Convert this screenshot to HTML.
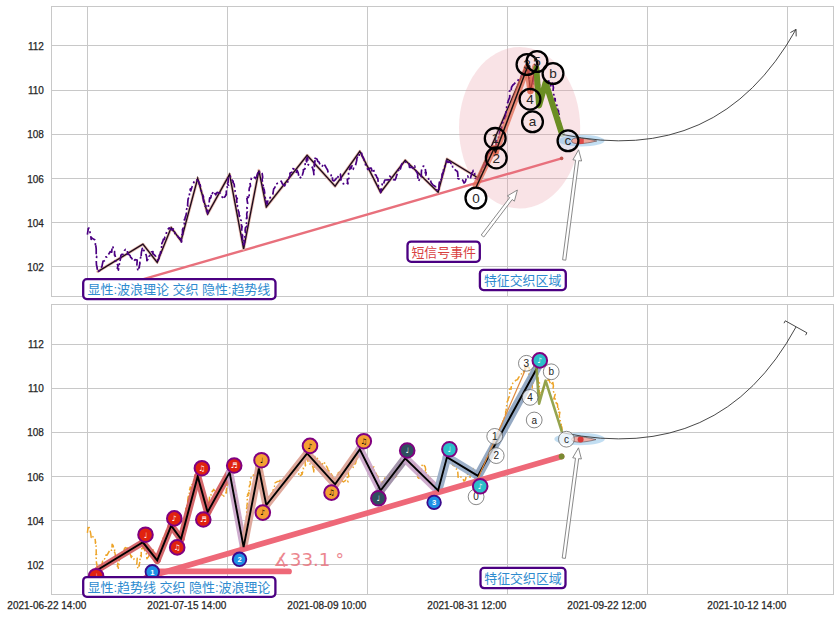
<!DOCTYPE html>
<html><head><meta charset="utf-8"><title>chart</title>
<style>
html,body{margin:0;padding:0;background:#fff;}
body{width:839px;height:617px;overflow:hidden;font-family:"Liberation Sans",sans-serif;}
svg{display:block;font-family:"Liberation Sans",sans-serif;}
</style></head><body>
<svg width="839" height="617" viewBox="0 0 839 617">
<rect width="100%" height="100%" fill="#fff"/>
<g stroke="#c8c8c8" stroke-width="1" shape-rendering="crispEdges"><rect x="51.5" y="6.5" width="782.0" height="290.0" fill="#fff"/><line x1="51.5" x2="833.5" y1="45.5" y2="45.5"/><line x1="51.5" x2="833.5" y1="90.5" y2="90.5"/><line x1="51.5" x2="833.5" y1="134.5" y2="134.5"/><line x1="51.5" x2="833.5" y1="178.5" y2="178.5"/><line x1="51.5" x2="833.5" y1="222.5" y2="222.5"/><line x1="51.5" x2="833.5" y1="266.5" y2="266.5"/><line x1="87.5" x2="87.5" y1="6.5" y2="296.5"/><line x1="227.5" x2="227.5" y1="6.5" y2="296.5"/><line x1="367.5" x2="367.5" y1="6.5" y2="296.5"/><line x1="507.5" x2="507.5" y1="6.5" y2="296.5"/><line x1="647.5" x2="647.5" y1="6.5" y2="296.5"/><line x1="787.5" x2="787.5" y1="6.5" y2="296.5"/><rect x="51.5" y="6.5" width="782.0" height="290.0" fill="none" stroke-width="1"/></g>
<ellipse cx="519.6" cy="127.8" rx="60.6" ry="80.8" fill="#ea9aa6" fill-opacity="0.28"/>
<line x1="140.0" y1="280.2" x2="561.6" y2="158.4" stroke="#e8707c" stroke-width="2.4" stroke-linecap="round"/>
<circle cx="561.6" cy="158.4" r="1.8" fill="#c0564f"/>
<polyline points="97.8,271.6 142.9,244.2 157.2,262.3 171.2,227.6 181.0,241.0 197.7,178.3 207.6,214.0 229.6,174.3 243.6,249.0 258.9,170.3 266.3,207.0 307.1,155.3 335.1,186.2 359.8,151.3 380.6,192.4 405.2,160.3 438.1,192.3 447.0,159.0 477.9,177.8 526.3,65.5" fill="none" stroke="#e6b9ae" stroke-width="2.9" stroke-linejoin="round" stroke-linecap="round"/>
<polyline points="97.8,271.6 142.9,244.2 157.2,262.3 171.2,227.6 181.0,241.0 197.7,178.3 207.6,214.0 229.6,174.3 243.6,249.0 258.9,170.3 266.3,207.0 307.1,155.3 335.1,186.2 359.8,151.3 380.6,192.4 405.2,160.3 438.1,192.3 447.0,159.0 477.9,177.8 526.3,65.5" fill="none" stroke="#1c0a1c" stroke-width="1.35" stroke-linejoin="miter"/>
<polyline points="87.4,234.7 87.8,231.5 87.8,232.0 88.3,228.2 89.0,228.0 88.7,228.0 89.8,231.4 90.5,234.6 90.6,234.7 91.2,239.3 91.5,237.8 93.5,239.1 94.9,239.9 95.3,242.3 95.4,245.2 95.7,243.8 95.6,244.9 95.9,246.4 96.2,248.9 96.2,256.0 95.8,256.5 96.6,256.3 96.6,257.6 96.2,259.4 96.3,261.8 96.5,265.3 96.9,266.1 97.0,267.8 97.4,269.6 97.9,271.6 97.6,272.0 99.1,270.8 99.8,270.5 101.2,268.1 102.1,265.9 102.4,264.1 103.1,261.0 104.3,260.9 104.8,260.4 105.2,259.0 105.9,256.8 106.9,257.2 109.1,253.4 110.1,252.3 110.1,251.5 111.7,252.2 112.0,248.5 112.1,246.1 113.1,247.3 113.7,250.4 114.5,251.4 114.6,251.7 114.5,255.2 114.6,253.8 115.4,257.0 115.4,260.9 116.6,261.5 116.2,262.7 118.1,265.7 117.3,268.2 118.0,268.6 118.4,270.1 119.0,266.5 119.4,264.0 118.9,261.2 119.8,260.9 120.3,259.8 120.9,255.4 121.8,254.4 122.8,254.5 123.7,253.6 124.4,250.7 125.4,249.5 125.9,250.0 127.4,249.9 127.6,254.3 128.4,254.1 130.1,255.6 131.3,259.5 131.5,257.9 133.7,261.3 134.9,259.7 137.2,260.2 136.9,265.0 136.6,266.2 137.4,267.9 137.9,270.5 139.4,267.1 138.9,268.0 140.0,263.1 139.7,263.3 140.2,260.2 140.6,257.4 141.3,258.4 141.3,258.6 141.2,254.8 141.4,252.4 142.3,248.4 142.6,249.9 142.7,249.2 143.2,248.8 143.4,250.2 143.9,250.2 145.1,253.5 146.2,255.1 146.7,257.5 146.9,260.7 148.2,259.0 149.0,257.6 149.5,257.2 149.0,256.4 150.5,255.2 151.5,251.8 153.0,251.6 152.8,254.0 153.3,253.9 155.1,255.6 155.7,256.4 156.7,259.0 156.9,259.5 158.7,260.8 158.4,261.4 158.9,259.5 159.2,257.8 159.2,255.5 160.6,253.3 160.4,253.0 160.8,250.9 160.9,249.9 161.6,248.3 161.6,245.5 161.9,243.2 161.8,243.7 162.8,241.4 163.4,239.2 164.3,239.5 164.9,236.9 166.2,234.9 166.4,232.8 167.2,229.9 169.2,227.9 169.9,228.5 171.0,229.2 172.5,230.4 172.8,228.8 174.7,229.9 175.0,233.9 176.6,236.1 177.8,236.1 178.4,237.3 179.6,238.0 181.7,241.1 181.2,242.8 181.4,236.8 182.6,234.6 181.9,234.6 182.6,234.0 182.5,229.5 183.0,228.6 183.2,227.7 183.4,226.4 184.4,223.5 184.3,223.0 184.4,219.3 184.3,220.0 184.9,219.5 185.2,217.4 186.0,215.4 186.4,212.9 185.8,210.5 186.1,210.5 187.1,208.1 186.4,208.2 188.0,206.3 187.6,205.5 187.8,201.9 188.1,198.9 188.5,198.1 188.7,198.4 189.5,194.2 189.2,192.2 189.8,191.4 190.3,188.9 190.7,190.9 191.8,187.5 192.2,186.2 192.4,185.1 194.3,181.5 196.0,181.0 196.6,179.8 198.4,181.3 199.2,183.0 199.1,183.9 200.2,184.6 200.6,188.6 201.0,190.5 201.4,191.1 201.6,191.1 202.4,192.5 202.5,194.2 203.5,197.1 203.1,197.7 203.5,201.0 204.2,202.8 204.2,203.7 205.1,206.2 206.4,206.1 207.4,209.2 206.5,210.9 207.6,212.2 207.7,213.6 207.5,212.6 207.9,210.6 208.6,207.2 208.6,207.3 208.2,204.4 209.1,204.0 209.4,200.1 209.7,197.9 210.4,198.3 210.9,197.5 211.3,194.6 212.0,193.4 212.8,192.9 212.3,193.5 213.7,191.2 215.7,194.9 217.1,192.3 218.9,193.0 220.2,193.1 221.3,195.4 221.8,196.5 223.8,199.1 223.9,197.5 225.3,196.3 225.9,194.5 226.3,194.9 226.3,191.5 226.9,189.1 227.1,186.8 227.5,188.4 228.6,185.6 227.5,183.6 228.0,182.4 228.1,182.5 228.2,178.7 228.6,177.2 229.1,175.4 230.3,176.1 230.8,179.3 231.2,179.0 233.2,181.4 232.9,182.3 233.6,183.2 234.2,184.3 234.6,188.8 234.3,189.0 235.1,191.0 235.0,190.9 236.0,193.5 236.0,196.2 236.3,197.1 237.3,198.8 236.6,199.1 236.9,203.2 237.3,205.9 237.4,206.3 237.5,205.6 238.3,210.9 238.8,211.8 239.1,213.1 239.0,213.6 239.3,216.3 239.6,215.5 240.2,217.2 240.0,218.7 241.2,220.7 241.0,222.8 241.4,224.7 242.0,227.5 242.1,226.4 241.7,229.1 241.9,234.1 242.5,236.3 242.5,234.4 242.5,237.0 242.6,235.2 242.5,238.2 242.9,242.9 243.1,242.8 243.1,243.3 243.6,245.7 243.7,246.8 244.1,243.9 244.1,242.6 244.1,240.9 244.0,240.7 244.6,242.4 244.5,238.7 245.4,238.5 244.6,235.7 245.5,232.7 245.1,230.6 245.4,227.9 245.6,227.5 247.0,226.2 245.8,227.0 246.3,224.4 246.8,221.8 246.4,219.6 246.6,217.7 247.0,218.1 246.7,213.9 247.2,212.0 247.4,211.6 246.5,210.1 247.3,209.1 246.9,207.8 247.2,205.7 247.7,203.0 247.4,202.3 246.9,198.4 248.4,197.4 247.5,196.7 248.7,194.4 249.2,195.7 249.1,193.4 249.1,189.8 249.3,188.4 249.6,187.3 250.5,186.2 250.4,185.3 250.0,182.7 250.9,180.9 251.4,178.1 252.8,177.5 253.8,176.6 255.5,178.5 256.7,176.3 257.6,173.4 259.1,170.3 259.9,173.7 261.9,173.0 262.1,173.3 262.3,174.3 262.7,177.2 262.1,179.2 262.4,181.3 263.5,183.2 263.0,184.7 263.5,187.0 263.5,185.9 263.8,189.8 264.0,190.7 264.2,189.7 264.7,193.0 264.1,194.6 265.3,197.9 265.7,199.9 265.3,199.8 266.3,201.8 265.9,201.0 266.4,203.0 267.0,204.2 268.0,200.2 268.4,199.0 269.5,198.9 270.1,197.6 270.9,196.6 271.5,195.2 272.9,194.0 273.7,188.9 274.3,188.4 275.5,186.1 275.1,184.7 277.7,183.3 279.3,183.1 281.2,181.1 282.4,183.8 284.6,185.9 285.7,183.8 287.7,183.4 287.7,178.4 288.6,178.6 289.3,177.4 290.1,175.7 289.9,173.2 291.1,172.6 292.1,172.0 292.8,169.3 292.8,168.6 295.6,169.8 296.3,172.4 297.0,170.2 298.1,172.5 299.2,178.0 299.4,178.3 300.4,177.5 302.2,176.0 301.5,174.6 302.4,174.9 303.5,171.0 303.3,169.8 304.8,169.1 305.6,166.9 305.3,166.6 305.0,161.8 306.5,161.5 306.8,161.7 306.5,161.8 306.2,159.8 307.1,157.5 307.2,158.0 307.7,157.9 307.8,162.0 308.0,163.5 308.2,164.8 310.2,166.0 311.7,167.1 312.3,167.1 313.4,171.0 313.6,171.9 313.9,174.7 314.0,170.5 314.5,168.6 314.4,169.1 314.5,164.0 314.0,165.1 314.6,164.7 314.5,162.1 314.7,159.0 315.0,161.9 314.9,158.3 315.7,158.4 317.1,159.3 317.9,161.6 319.0,162.1 320.0,164.5 320.5,166.1 322.3,166.2 323.8,163.5 324.8,165.2 325.8,166.9 326.0,167.4 327.6,170.0 328.0,172.0 329.6,173.5 330.7,174.5 331.2,175.3 331.6,178.1 332.4,177.2 332.5,180.0 334.0,181.0 335.4,179.7 337.3,176.8 337.8,178.3 338.3,174.5 339.5,174.0 340.4,174.1 340.7,177.3 340.9,176.4 341.0,180.2 342.4,183.1 343.5,183.9 346.0,182.1 348.0,183.8 347.7,182.8 347.3,179.3 348.9,178.4 348.1,175.4 348.5,174.5 348.6,170.6 350.1,168.4 350.1,166.9 351.0,168.5 351.4,167.3 351.9,165.8 353.1,166.9 353.2,169.3 354.0,166.6 355.5,165.5 356.4,161.8 356.8,160.1 356.8,158.8 357.7,156.4 358.4,155.8 359.0,156.7 359.4,152.4 360.0,152.6 361.7,153.3 362.1,155.8 363.4,158.0 364.1,160.1 364.2,160.4 364.7,161.3 365.1,162.6 365.6,165.0 366.0,166.7 367.9,169.5 369.9,168.1 371.2,168.1 372.0,170.9 373.8,168.8 374.1,174.4 375.9,175.0 376.0,175.1 376.8,177.3 377.8,178.3 378.2,182.1 377.8,184.2 378.6,186.2 379.2,188.2 379.9,189.5 380.8,192.4 380.8,189.0 381.4,189.8 381.5,186.3 382.2,184.5 382.3,183.3 383.3,184.6 384.8,180.0 388.1,179.8 389.5,179.9 389.7,176.0 391.5,177.9 393.4,179.7 395.1,180.0 396.0,177.9 396.5,175.7 396.6,175.8 397.8,171.9 398.3,170.1 399.3,171.4 400.4,167.7 400.4,169.0 401.6,164.4 404.0,161.8 404.8,161.2 406.6,162.8 408.9,162.7 409.5,167.4 412.1,167.4 413.7,168.8 414.7,166.0 414.9,166.9 415.4,170.7 416.2,171.0 416.2,171.4 417.3,173.1 417.8,175.4 417.6,176.8 418.3,179.0 417.8,179.3 419.0,180.3 418.7,180.9 419.7,179.0 419.6,178.8 420.8,175.7 421.3,176.7 421.4,171.5 421.7,169.6 422.1,167.3 423.3,166.1 424.4,166.4 424.3,167.6 425.2,168.7 425.7,171.5 425.2,172.8 425.6,172.0 426.2,172.6 425.9,175.2 426.8,176.1 428.5,177.8 428.8,180.7 430.4,180.2 431.2,182.8 433.2,185.3 434.7,186.1 435.5,186.7 436.7,186.5 436.7,189.9 438.5,191.6 439.0,190.3 438.9,188.1 439.0,185.0 439.4,182.2 440.3,182.8 440.6,183.1 441.1,179.4 442.0,178.1 442.1,179.2 442.0,174.6 442.4,173.5 443.2,172.4 443.5,171.3 443.5,167.7 444.7,166.2 444.9,166.7 445.6,164.1 446.7,162.5 446.5,160.8 448.5,162.3 449.9,161.9 451.1,163.6 451.9,163.1 452.7,167.0 453.7,166.9 455.2,169.9 456.7,171.1 457.4,171.5 457.7,173.1 458.2,179.2 457.8,178.5 459.5,179.3 459.9,179.6 461.0,178.9 462.7,180.1 464.0,183.0 465.3,181.9 466.1,178.9 467.7,176.0 468.5,178.2 470.2,179.1 471.4,174.8 471.9,172.5 472.3,172.5 472.9,171.8 473.2,170.3 474.0,172.0 474.6,173.0 474.8,177.0 475.2,178.2 476.8,178.5 477.7,179.6 478.7,178.2 479.4,177.1 480.3,173.1 480.1,172.7 481.2,171.2 481.6,171.1 481.9,169.0 483.2,167.1 484.3,164.6 485.1,165.3 486.0,161.3 486.2,159.2 487.2,157.1 487.8,156.9 488.4,154.9 489.6,153.0 489.9,151.2 490.4,149.9 490.7,148.5 492.1,147.8 493.0,145.7 493.7,146.9 494.3,150.2 495.3,148.0 495.6,146.4 496.1,146.3 496.2,141.3 497.0,141.5 496.9,138.0 498.7,137.4 498.0,134.0 499.2,133.9 499.9,131.7 500.8,129.0 501.3,129.1 502.2,126.2 502.6,124.5 503.2,121.7 504.0,121.7 504.4,119.6 505.1,117.0 505.8,116.5 505.6,113.8 506.1,112.1 506.5,109.5 506.5,109.6 506.6,108.7 506.8,104.5 507.7,102.6 508.0,102.3 508.1,101.1 509.5,97.9 509.8,96.2 509.4,91.4 510.9,89.9 511.0,91.2 511.5,87.3 512.9,85.0 514.3,83.8 514.4,83.6 515.8,82.2 517.5,81.5 518.8,79.0 519.6,78.4 521.1,76.9 521.8,74.8 523.0,75.2 524.2,72.1 525.0,69.1 526.4,66.9 527.8,64.5 528.2,69.3 529.2,69.6 529.4,71.6 528.6,73.6 529.3,78.3 530.1,79.8 530.0,79.0 530.5,80.6 530.1,83.0 531.0,84.9 531.2,86.3 531.2,87.6 531.6,90.2 532.1,89.9 532.3,88.2 532.0,85.6 533.2,84.7 532.8,82.3 533.6,80.0 533.2,78.4 533.7,76.3 534.1,74.5 535.3,71.9 534.7,72.3 535.5,68.9 535.6,67.4 536.0,67.3 537.0,69.3 536.8,69.8 537.3,71.6 537.1,70.7 537.7,74.7 537.7,76.0 538.0,77.3 538.1,83.1 538.8,84.6 538.8,84.6 539.5,84.9 539.0,87.2 539.3,88.3 539.2,88.5 539.7,90.2 539.0,93.4 540.1,94.6 539.5,94.7 540.0,98.7 540.2,96.2 541.1,95.1 542.0,93.8 542.4,93.0 543.3,90.0 544.1,88.3 544.7,86.0 545.3,84.0 547.4,83.1 548.7,80.8 549.5,83.1 550.3,85.2 551.6,86.6 552.6,83.1 553.5,88.0 553.2,88.7 553.1,91.8 553.9,94.9 553.7,94.7 555.2,96.1 553.8,100.8 555.2,98.6 555.2,101.0 555.9,103.7 556.4,105.4 557.3,105.3 557.6,107.1 557.7,110.1 558.1,111.6 558.5,110.7 558.5,114.2 559.9,114.1 559.2,118.0 559.9,120.0 560.1,122.4 560.2,122.8 560.6,124.5 560.7,125.1 561.3,126.3 560.8,127.4 561.9,129.0 562.0,131.1 561.8,134.5" fill="none" stroke="#4b0082" stroke-width="1.7" stroke-dasharray="9 3 2 3" stroke-linejoin="round"/>
<line x1="475.8" y1="185.5" x2="494.0" y2="148.5" stroke="#e0684e" stroke-opacity="0.72" stroke-width="6.4" stroke-linecap="round"/>
<line x1="494.0" y1="148.5" x2="495.5" y2="152.5" stroke="#e0684e" stroke-opacity="0.72" stroke-width="6.4" stroke-linecap="round"/>
<line x1="495.5" y1="152.5" x2="527.3" y2="67.2" stroke="#e0684e" stroke-opacity="0.72" stroke-width="6.4" stroke-linecap="round"/>
<line x1="527.3" y1="67.2" x2="530.5" y2="91.0" stroke="#e0684e" stroke-opacity="0.72" stroke-width="6.4" stroke-linecap="round"/>
<line x1="530.5" y1="91.0" x2="535.2" y2="66.8" stroke="#e0684e" stroke-opacity="0.72" stroke-width="6.4" stroke-linecap="round"/>
<polyline points="476.2,187.0 494.0,148.5 495.5,152.5 527.3,67.2" fill="none" stroke="#1a0f0f" stroke-width="1.5" stroke-linejoin="round"/>
<polyline points="527.3,67.2 530.5,91.0 535.2,66.8" fill="none" stroke="#a33a32" stroke-width="1.1" stroke-linejoin="round"/>
<polyline points="536.3,68.0 539.1,105.5 545.6,82.6 562.0,134.0" fill="none" stroke="#6b8e23" stroke-width="6" stroke-linejoin="round" stroke-linecap="round"/>
<circle cx="568" cy="140.8" r="10.4" fill="#dde3f2" fill-opacity="0.75"/>
<ellipse cx="581.5" cy="140.7" rx="23" ry="5.8" fill="#86bde6" fill-opacity="0.5"/>
<path d="M571.5,140.9 C572,136.6 581,137.4 596.8,141 C584,144.2 572,145 571.5,140.9Z" fill="#f2a294" fill-opacity="0.9" stroke="#4a3030" stroke-width="0.5"/>
<path d="M579.2,138.2 L583.8,138.7 L583.8,143.6 L579.2,144.2Z" fill="#dc3a3a" fill-opacity="0.85"/>
<path d="M562.5,134.5 Q718.6,167.4 796,29.4" fill="none" stroke="#333" stroke-width="0.9"/>
<path d="M790.4,32.6 L796,29.4 L796.2,36.4" fill="none" stroke="#333" stroke-width="0.9"/>
<circle cx="475.9" cy="198.0" r="10.4" fill="none"  stroke="#000" stroke-width="2.3"/>
<text x="472.15" y="202.60" font-size="13.5" fill="#262626" font-family="'Liberation Sans',sans-serif">0</text>
<circle cx="495.2" cy="138.4" r="10.4" fill="none"  stroke="#000" stroke-width="2.3"/>
<text x="491.45" y="143.00" font-size="13.5" fill="#262626" font-family="'Liberation Sans',sans-serif">1</text>
<circle cx="496.3" cy="157.9" r="10.4" fill="none"  stroke="#000" stroke-width="2.3"/>
<text x="492.55" y="162.50" font-size="13.5" fill="#262626" font-family="'Liberation Sans',sans-serif">2</text>
<circle cx="527.0" cy="64.5" r="10.4" fill="none"  stroke="#000" stroke-width="2.3"/>
<text x="523.25" y="69.10" font-size="13.5" fill="#262626" font-family="'Liberation Sans',sans-serif">3</text>
<circle cx="530.0" cy="99.2" r="10.4" fill="none"  stroke="#000" stroke-width="2.3"/>
<text x="526.25" y="103.80" font-size="13.5" fill="#262626" font-family="'Liberation Sans',sans-serif">4</text>
<circle cx="537.0" cy="61.5" r="10.4" fill="none"  stroke="#000" stroke-width="2.3"/>
<text x="533.25" y="66.10" font-size="13.5" fill="#262626" font-family="'Liberation Sans',sans-serif">5</text>
<circle cx="532.5" cy="121.8" r="10.4" fill="none"  stroke="#000" stroke-width="2.3"/>
<text x="528.75" y="126.40" font-size="13.5" fill="#262626" font-family="'Liberation Sans',sans-serif">a</text>
<circle cx="553.0" cy="73.5" r="10.4" fill="none"  stroke="#000" stroke-width="2.3"/>
<text x="549.25" y="78.10" font-size="13.5" fill="#262626" font-family="'Liberation Sans',sans-serif">b</text>
<circle cx="568.0" cy="140.8" r="10.4" fill="none"  stroke="#000" stroke-width="2.3"/>
<text x="564.62" y="145.40" font-size="13.5" fill="#262626" font-family="'Liberation Sans',sans-serif">c</text>
<polygon points="483.8,237.0 512.2,199.5 514.4,201.2 517.4,190.0 507.4,195.9 509.7,197.6 481.2,235.0" fill="#fff" stroke="#7d7d7d" stroke-width="0.9" stroke-linejoin="miter"/>
<polygon points="565.8,260.2 578.8,160.6 581.6,161.0 578.6,149.8 572.9,159.8 575.6,160.2 562.6,259.8" fill="#fff" stroke="#7d7d7d" stroke-width="0.9" stroke-linejoin="miter"/>
<rect x="83.2" y="279.2" width="192.3" height="19.9" rx="3.6" ry="3.6" fill="#fff" stroke="#4b0082" stroke-width="2.3"/>
<text x="87.6" y="294.3" font-size="13.05" fill="#2e8bcf" textLength="182.8" lengthAdjust="spacing" font-family="'Liberation Sans','Noto Sans CJK SC',sans-serif">显性:波浪理论 交织 隐性:趋势线</text>
<rect x="407.5" y="241.6" width="72.3" height="20.2" rx="3.6" ry="3.6" fill="#fff" stroke="#4b0082" stroke-width="2.3"/>
<text x="411.4" y="256.8" font-size="12.92" fill="#d8413f" textLength="64.6" lengthAdjust="spacing" font-family="'Liberation Sans','Noto Sans CJK SC',sans-serif">短信号事件</text>
<rect x="479.9" y="269.8" width="85.9" height="20.3" rx="3.6" ry="3.6" fill="#fff" stroke="#4b0082" stroke-width="2.3"/>
<text x="483.9" y="285.0" font-size="12.9" fill="#2e8bcf" textLength="77.4" lengthAdjust="spacing" font-family="'Liberation Sans','Noto Sans CJK SC',sans-serif">特征交织区域</text>
<g stroke="#c8c8c8" stroke-width="1" shape-rendering="crispEdges"><rect x="51.5" y="304.5" width="782.0" height="290.0" fill="#fff"/><line x1="51.5" x2="833.5" y1="344.5" y2="344.5"/><line x1="51.5" x2="833.5" y1="388.5" y2="388.5"/><line x1="51.5" x2="833.5" y1="432.5" y2="432.5"/><line x1="51.5" x2="833.5" y1="476.5" y2="476.5"/><line x1="51.5" x2="833.5" y1="520.5" y2="520.5"/><line x1="51.5" x2="833.5" y1="564.5" y2="564.5"/><line x1="87.5" x2="87.5" y1="304.5" y2="594.5"/><line x1="227.5" x2="227.5" y1="304.5" y2="594.5"/><line x1="367.5" x2="367.5" y1="304.5" y2="594.5"/><line x1="507.5" x2="507.5" y1="304.5" y2="594.5"/><line x1="647.5" x2="647.5" y1="304.5" y2="594.5"/><line x1="787.5" x2="787.5" y1="304.5" y2="594.5"/><rect x="51.5" y="304.5" width="782.0" height="290.0" fill="none" stroke-width="1"/></g>
<polyline points="87.4,532.8 87.8,529.6 87.8,530.1 88.3,526.3 89.0,526.1 88.7,526.1 89.8,529.5 90.5,532.7 90.6,532.8 91.2,537.4 91.5,535.9 93.5,537.2 94.9,538.0 95.3,540.4 95.4,543.3 95.7,541.9 95.6,543.0 95.9,544.5 96.2,547.0 96.2,554.1 95.8,554.6 96.6,554.4 96.6,555.7 96.2,557.5 96.3,559.9 96.5,563.4 96.9,564.2 97.0,565.9 97.4,567.7 97.9,569.7 97.6,570.1 99.1,568.9 99.8,568.6 101.2,566.2 102.1,564.0 102.4,562.2 103.1,559.1 104.3,559.0 104.8,558.5 105.2,557.1 105.9,554.9 106.9,555.3 109.1,551.5 110.1,550.4 110.1,549.6 111.7,550.3 112.0,546.6 112.1,544.2 113.1,545.4 113.7,548.5 114.5,549.5 114.6,549.8 114.5,553.3 114.6,551.9 115.4,555.1 115.4,559.0 116.6,559.6 116.2,560.8 118.1,563.8 117.3,566.3 118.0,566.7 118.4,568.2 119.0,564.6 119.4,562.1 118.9,559.3 119.8,559.0 120.3,557.9 120.9,553.5 121.8,552.5 122.8,552.6 123.7,551.7 124.4,548.8 125.4,547.6 125.9,548.1 127.4,548.0 127.6,552.4 128.4,552.2 130.1,553.7 131.3,557.6 131.5,556.0 133.7,559.4 134.9,557.8 137.2,558.3 136.9,563.1 136.6,564.3 137.4,566.0 137.9,568.6 139.4,565.2 138.9,566.1 140.0,561.2 139.7,561.4 140.2,558.3 140.6,555.5 141.3,556.5 141.3,556.7 141.2,552.9 141.4,550.5 142.3,546.5 142.6,548.0 142.7,547.3 143.2,546.9 143.4,548.3 143.9,548.3 145.1,551.6 146.2,553.2 146.7,555.6 146.9,558.8 148.2,557.1 149.0,555.7 149.5,555.3 149.0,554.5 150.5,553.3 151.5,549.9 153.0,549.7 152.8,552.1 153.3,552.0 155.1,553.7 155.7,554.5 156.7,557.1 156.9,557.6 158.7,558.9 158.4,559.5 158.9,557.6 159.2,555.9 159.2,553.6 160.6,551.4 160.4,551.1 160.8,549.0 160.9,548.0 161.6,546.4 161.6,543.6 161.9,541.3 161.8,541.8 162.8,539.5 163.4,537.3 164.3,537.6 164.9,535.0 166.2,533.0 166.4,530.9 167.2,528.0 169.2,526.0 169.9,526.6 171.0,527.3 172.5,528.5 172.8,526.9 174.7,528.0 175.0,532.0 176.6,534.2 177.8,534.2 178.4,535.4 179.6,536.1 181.7,539.2 181.2,540.9 181.4,534.9 182.6,532.7 181.9,532.7 182.6,532.1 182.5,527.6 183.0,526.7 183.2,525.8 183.4,524.5 184.4,521.6 184.3,521.1 184.4,517.4 184.3,518.1 184.9,517.6 185.2,515.5 186.0,513.5 186.4,511.0 185.8,508.6 186.1,508.6 187.1,506.2 186.4,506.3 188.0,504.4 187.6,503.6 187.8,500.0 188.1,497.0 188.5,496.2 188.7,496.5 189.5,492.3 189.2,490.3 189.8,489.5 190.3,487.0 190.7,489.0 191.8,485.6 192.2,484.3 192.4,483.2 194.3,479.6 196.0,479.1 196.6,477.9 198.4,479.4 199.2,481.1 199.1,482.0 200.2,482.7 200.6,486.7 201.0,488.6 201.4,489.2 201.6,489.2 202.4,490.6 202.5,492.3 203.5,495.2 203.1,495.8 203.5,499.1 204.2,500.9 204.2,501.8 205.1,504.3 206.4,504.2 207.4,507.3 206.5,509.0 207.6,510.3 207.7,511.7 207.5,510.7 207.9,508.7 208.6,505.3 208.6,505.4 208.2,502.5 209.1,502.1 209.4,498.2 209.7,496.0 210.4,496.4 210.9,495.6 211.3,492.7 212.0,491.5 212.8,491.0 212.3,491.6 213.7,489.3 215.7,493.0 217.1,490.4 218.9,491.1 220.2,491.2 221.3,493.5 221.8,494.6 223.8,497.2 223.9,495.6 225.3,494.4 225.9,492.6 226.3,493.0 226.3,489.6 226.9,487.2 227.1,484.9 227.5,486.5 228.6,483.7 227.5,481.7 228.0,480.5 228.1,480.6 228.2,476.8 228.6,475.3 229.1,473.5 230.3,474.2 230.8,477.4 231.2,477.1 233.2,479.5 232.9,480.4 233.6,481.3 234.2,482.4 234.6,486.9 234.3,487.1 235.1,489.1 235.0,489.0 236.0,491.6 236.0,494.3 236.3,495.2 237.3,496.9 236.6,497.2 236.9,501.3 237.3,504.0 237.4,504.4 237.5,503.7 238.3,509.0 238.8,509.9 239.1,511.2 239.0,511.7 239.3,514.4 239.6,513.6 240.2,515.3 240.0,516.8 241.2,518.8 241.0,520.9 241.4,522.8 242.0,525.6 242.1,524.5 241.7,527.2 241.9,532.2 242.5,534.4 242.5,532.5 242.5,535.1 242.6,533.3 242.5,536.3 242.9,541.0 243.1,540.9 243.1,541.4 243.6,543.8 243.7,544.9 244.1,542.0 244.1,540.7 244.1,539.0 244.0,538.8 244.6,540.5 244.5,536.8 245.4,536.6 244.6,533.8 245.5,530.8 245.1,528.7 245.4,526.0 245.6,525.6 247.0,524.3 245.8,525.1 246.3,522.5 246.8,519.9 246.4,517.7 246.6,515.8 247.0,516.2 246.7,512.0 247.2,510.1 247.4,509.7 246.5,508.2 247.3,507.2 246.9,505.9 247.2,503.8 247.7,501.1 247.4,500.4 246.9,496.5 248.4,495.5 247.5,494.8 248.7,492.5 249.2,493.8 249.1,491.5 249.1,487.9 249.3,486.5 249.6,485.4 250.5,484.3 250.4,483.4 250.0,480.8 250.9,479.0 251.4,476.2 252.8,475.6 253.8,474.7 255.5,476.6 256.7,474.4 257.6,471.5 259.1,468.4 259.9,471.8 261.9,471.1 262.1,471.4 262.3,472.4 262.7,475.3 262.1,477.3 262.4,479.4 263.5,481.3 263.0,482.8 263.5,485.1 263.5,484.0 263.8,487.9 264.0,488.8 264.2,487.8 264.7,491.1 264.1,492.7 265.3,496.0 265.7,498.0 265.3,497.9 266.3,499.9 265.9,499.1 266.4,501.1 267.0,502.3 268.0,498.3 268.4,497.1 269.5,497.0 270.1,495.7 270.9,494.7 271.5,493.3 272.9,492.1 273.7,487.0 274.3,486.5 275.5,484.2 275.1,482.8 277.7,481.4 279.3,481.2 281.2,479.2 282.4,481.9 284.6,484.0 285.7,481.9 287.7,481.5 287.7,476.5 288.6,476.7 289.3,475.5 290.1,473.8 289.9,471.3 291.1,470.7 292.1,470.1 292.8,467.4 292.8,466.7 295.6,467.9 296.3,470.5 297.0,468.3 298.1,470.6 299.2,476.1 299.4,476.4 300.4,475.6 302.2,474.1 301.5,472.7 302.4,473.0 303.5,469.1 303.3,467.9 304.8,467.2 305.6,465.0 305.3,464.7 305.0,459.9 306.5,459.6 306.8,459.8 306.5,459.9 306.2,457.9 307.1,455.6 307.2,456.1 307.7,456.0 307.8,460.1 308.0,461.6 308.2,462.9 310.2,464.1 311.7,465.2 312.3,465.2 313.4,469.1 313.6,470.0 313.9,472.8 314.0,468.6 314.5,466.7 314.4,467.2 314.5,462.1 314.0,463.2 314.6,462.8 314.5,460.2 314.7,457.1 315.0,460.0 314.9,456.4 315.7,456.5 317.1,457.4 317.9,459.7 319.0,460.2 320.0,462.6 320.5,464.2 322.3,464.3 323.8,461.6 324.8,463.3 325.8,465.0 326.0,465.5 327.6,468.1 328.0,470.1 329.6,471.6 330.7,472.6 331.2,473.4 331.6,476.2 332.4,475.3 332.5,478.1 334.0,479.1 335.4,477.8 337.3,474.9 337.8,476.4 338.3,472.6 339.5,472.1 340.4,472.2 340.7,475.4 340.9,474.5 341.0,478.3 342.4,481.2 343.5,482.0 346.0,480.2 348.0,481.9 347.7,480.9 347.3,477.4 348.9,476.5 348.1,473.5 348.5,472.6 348.6,468.7 350.1,466.5 350.1,465.0 351.0,466.6 351.4,465.4 351.9,463.9 353.1,465.0 353.2,467.4 354.0,464.7 355.5,463.6 356.4,459.9 356.8,458.2 356.8,456.9 357.7,454.5 358.4,453.9 359.0,454.8 359.4,450.5 360.0,450.7 361.7,451.4 362.1,453.9 363.4,456.1 364.1,458.2 364.2,458.5 364.7,459.4 365.1,460.7 365.6,463.1 366.0,464.8 367.9,467.6 369.9,466.2 371.2,466.2 372.0,469.0 373.8,466.9 374.1,472.5 375.9,473.1 376.0,473.2 376.8,475.4 377.8,476.4 378.2,480.2 377.8,482.3 378.6,484.3 379.2,486.3 379.9,487.6 380.8,490.5 380.8,487.1 381.4,487.9 381.5,484.4 382.2,482.6 382.3,481.4 383.3,482.7 384.8,478.1 388.1,477.9 389.5,478.0 389.7,474.1 391.5,476.0 393.4,477.8 395.1,478.1 396.0,476.0 396.5,473.8 396.6,473.9 397.8,470.0 398.3,468.2 399.3,469.5 400.4,465.8 400.4,467.1 401.6,462.5 404.0,459.9 404.8,459.3 406.6,460.9 408.9,460.8 409.5,465.5 412.1,465.5 413.7,466.9 414.7,464.1 414.9,465.0 415.4,468.8 416.2,469.1 416.2,469.5 417.3,471.2 417.8,473.5 417.6,474.9 418.3,477.1 417.8,477.4 419.0,478.4 418.7,479.0 419.7,477.1 419.6,476.9 420.8,473.8 421.3,474.8 421.4,469.6 421.7,467.7 422.1,465.4 423.3,464.2 424.4,464.5 424.3,465.7 425.2,466.8 425.7,469.6 425.2,470.9 425.6,470.1 426.2,470.7 425.9,473.3 426.8,474.2 428.5,475.9 428.8,478.8 430.4,478.3 431.2,480.9 433.2,483.4 434.7,484.2 435.5,484.8 436.7,484.6 436.7,488.0 438.5,489.7 439.0,488.4 438.9,486.2 439.0,483.1 439.4,480.3 440.3,480.9 440.6,481.2 441.1,477.5 442.0,476.2 442.1,477.3 442.0,472.7 442.4,471.6 443.2,470.5 443.5,469.4 443.5,465.8 444.7,464.3 444.9,464.8 445.6,462.2 446.7,460.6 446.5,458.9 448.5,460.4 449.9,460.0 451.1,461.7 451.9,461.2 452.7,465.1 453.7,465.0 455.2,468.0 456.7,469.2 457.4,469.6 457.7,471.2 458.2,477.3 457.8,476.6 459.5,477.4 459.9,477.7 461.0,477.0 462.7,478.2 464.0,481.1 465.3,480.0 466.1,477.0 467.7,474.1 468.5,476.3 470.2,477.2 471.4,472.9 471.9,470.6 472.3,470.6 472.9,469.9 473.2,468.4 474.0,470.1 474.6,471.1 474.8,475.1 475.2,476.3 476.8,476.6 477.7,477.7 478.7,476.3 479.4,475.2 480.3,471.2 480.1,470.8 481.2,469.3 481.6,469.2 481.9,467.1 483.2,465.2 484.3,462.7 485.1,463.4 486.0,459.4 486.2,457.3 487.2,455.2 487.8,455.0 488.4,453.0 489.6,451.1 489.9,449.3 490.4,448.0 490.7,446.6 492.1,445.9 493.0,443.8 493.7,445.0 494.3,448.3 495.3,446.1 495.6,444.5 496.1,444.4 496.2,439.4 497.0,439.6 496.9,436.1 498.7,435.5 498.0,432.1 499.2,432.0 499.9,429.8 500.8,427.1 501.3,427.2 502.2,424.3 502.6,422.6 503.2,419.8 504.0,419.8 504.4,417.7 505.1,415.1 505.8,414.6 505.6,411.9 506.1,410.2 506.5,407.6 506.5,407.7 506.6,406.8 506.8,402.6 507.7,400.7 508.0,400.4 508.1,399.2 509.5,396.0 509.8,394.3 509.4,389.5 510.9,388.0 511.0,389.3 511.5,385.4 512.9,383.1 514.3,381.9 514.4,381.7 515.8,380.3 517.5,379.6 518.8,377.1 519.6,376.5 521.1,375.0 521.8,372.9 523.0,373.3 524.2,370.2 525.0,367.2 526.4,365.0 527.8,362.6 528.2,367.4 529.2,367.7 529.4,369.7 528.6,371.7 529.3,376.4 530.1,377.9 530.0,377.1 530.5,378.7 530.1,381.1 531.0,383.0 531.2,384.4 531.2,385.7 531.6,388.3 532.1,388.0 532.3,386.3 532.0,383.7 533.2,382.8 532.8,380.4 533.6,378.1 533.2,376.5 533.7,374.4 534.1,372.6 535.3,370.0 534.7,370.4 535.5,367.0 535.6,365.5 536.0,365.4 537.0,367.4 536.8,367.9 537.3,369.7 537.1,368.8 537.7,372.8 537.7,374.1 538.0,375.4 538.1,381.2 538.8,382.7 538.8,382.7 539.5,383.0 539.0,385.3 539.3,386.4 539.2,386.6 539.7,388.3 539.0,391.5 540.1,392.7 539.5,392.8 540.0,396.8 540.2,394.3 541.1,393.2 542.0,391.9 542.4,391.1 543.3,388.1 544.1,386.4 544.7,384.1 545.3,382.1 547.4,381.2 548.7,378.9 549.5,381.2 550.3,383.3 551.6,384.7 552.6,381.2 553.5,386.1 553.2,386.8 553.1,389.9 553.9,393.0 553.7,392.8 555.2,394.2 553.8,398.9 555.2,396.7 555.2,399.1 555.9,401.8 556.4,403.5 557.3,403.4 557.6,405.2 557.7,408.2 558.1,409.7 558.5,408.8 558.5,412.3 559.9,412.2 559.2,416.1 559.9,418.1 560.1,420.5 560.2,420.9 560.6,422.6 560.7,423.2 561.3,424.4 560.8,425.5 561.9,427.1 562.0,429.2 561.8,432.6" fill="none" stroke="#eda428" stroke-width="1.5" stroke-dasharray="7 2.4 1.5 2.4" stroke-linejoin="round"/>
<line x1="97.8" y1="569.7" x2="142.9" y2="542.3" stroke="#d0585c" stroke-opacity="0.9" stroke-width="6.8" stroke-linecap="round"/>
<line x1="142.9" y1="542.3" x2="157.2" y2="560.4" stroke="#d0585c" stroke-opacity="0.9" stroke-width="6.9" stroke-linecap="round"/>
<line x1="157.2" y1="560.4" x2="171.2" y2="525.7" stroke="#d0585c" stroke-opacity="0.9" stroke-width="7.0" stroke-linecap="round"/>
<line x1="171.2" y1="525.7" x2="181.0" y2="539.1" stroke="#d0585c" stroke-opacity="0.9" stroke-width="7.1" stroke-linecap="round"/>
<line x1="181.0" y1="539.1" x2="197.7" y2="476.4" stroke="#d0585c" stroke-opacity="0.9" stroke-width="7.2" stroke-linecap="round"/>
<line x1="197.7" y1="476.4" x2="207.6" y2="512.1" stroke="#d0585c" stroke-opacity="0.9" stroke-width="7.4" stroke-linecap="round"/>
<line x1="207.6" y1="512.1" x2="229.6" y2="472.4" stroke="#d0585c" stroke-opacity="0.9" stroke-width="7.5" stroke-linecap="round"/>
<line x1="229.6" y1="472.4" x2="243.6" y2="547.1" stroke="#c9a3c9" stroke-opacity="0.9" stroke-width="7.6" stroke-linecap="round"/>
<line x1="243.6" y1="547.1" x2="258.9" y2="468.4" stroke="#dca092" stroke-opacity="0.9" stroke-width="7.7" stroke-linecap="round"/>
<line x1="258.9" y1="468.4" x2="266.3" y2="505.1" stroke="#dca092" stroke-opacity="0.9" stroke-width="7.8" stroke-linecap="round"/>
<line x1="266.3" y1="505.1" x2="307.1" y2="453.4" stroke="#dca092" stroke-opacity="0.9" stroke-width="7.9" stroke-linecap="round"/>
<line x1="307.1" y1="453.4" x2="335.1" y2="484.3" stroke="#dca092" stroke-opacity="0.9" stroke-width="8.0" stroke-linecap="round"/>
<line x1="335.1" y1="484.3" x2="359.8" y2="449.4" stroke="#dca092" stroke-opacity="0.9" stroke-width="8.1" stroke-linecap="round"/>
<line x1="359.8" y1="449.4" x2="380.6" y2="490.5" stroke="#c9a3c9" stroke-opacity="0.9" stroke-width="8.2" stroke-linecap="round"/>
<line x1="380.6" y1="490.5" x2="405.2" y2="458.4" stroke="#9a8aa3" stroke-opacity="0.9" stroke-width="8.4" stroke-linecap="round"/>
<line x1="405.2" y1="458.4" x2="438.1" y2="490.4" stroke="#c9a3c9" stroke-opacity="0.9" stroke-width="8.5" stroke-linecap="round"/>
<line x1="438.1" y1="490.4" x2="447.0" y2="457.1" stroke="#94a9c4" stroke-opacity="0.9" stroke-width="8.6" stroke-linecap="round"/>
<line x1="447.0" y1="457.1" x2="477.9" y2="475.9" stroke="#94a9c4" stroke-opacity="0.9" stroke-width="8.7" stroke-linecap="round"/>
<line x1="477.9" y1="475.9" x2="537.9" y2="366.5" stroke="#8aa0bc" stroke-opacity="0.9" stroke-width="8.8" stroke-linecap="round"/>
<line x1="152.3" y1="571.4" x2="289" y2="571.4" stroke="#ee6878" stroke-width="5.7" stroke-linecap="round"/>
<line x1="146.0" y1="577.5" x2="561.6" y2="456.5" stroke="#ee6878" stroke-width="5.7" stroke-linecap="round"/>
<circle cx="561.6" cy="456.5" r="2.9" fill="#7a8a32"/>
<text x="273.4" y="565.6" font-size="18.3" fill="#e9727c" opacity="0.85" font-family="'DejaVu Sans',sans-serif">∡33.1</text>
<text x="335.6" y="565.6" font-size="17" fill="#e9727c" opacity="0.85" font-family="'DejaVu Sans',sans-serif">°</text>
<polyline points="97.8,569.7 142.9,542.3 157.2,560.4 171.2,525.7 181.0,539.1 197.7,476.4 207.6,512.1 229.6,472.4 243.6,547.1 258.9,468.4 266.3,505.1 307.1,453.4 335.1,484.3 359.8,449.4 380.6,490.5 405.2,458.4 438.1,490.4 447.0,457.1 477.9,475.9 537.9,366.5" fill="none" stroke="#000" stroke-width="1.9" stroke-linejoin="miter"/>
<polyline points="475.8,483.6 527.3,365.3" fill="none" stroke="#e08a3c" stroke-width="1.2"/>
<polyline points="536.3,366.1 539.1,403.6 545.6,380.7 562.0,432.1" fill="none" stroke="#8a9a3c" stroke-opacity="0.9" stroke-width="2.6" stroke-linejoin="round"/>
<ellipse cx="579.6" cy="439" rx="25.3" ry="6.3" fill="#86bde6" fill-opacity="0.5"/>
<path d="M571.6,439.4 C572,435.2 580,435.8 596,439.6 C586,442.4 572,443.6 571.6,439.4Z" fill="#f2aaa0" fill-opacity="0.9" stroke="#4a3030" stroke-width="0.5"/>
<circle cx="580.6" cy="439.6" r="3" fill="#d83a3a"/>
<path d="M562,432.7 Q720.6,465.2 796,327.0" fill="none" stroke="#333" stroke-width="0.9"/>
<path d="M784.0,323.2 L785.3,320.8 L806.9,332.8 L805.6,335.2" fill="none" stroke="#333" stroke-width="0.9"/>
<circle cx="476.1" cy="496.8" r="7.9" fill="#fff" fill-opacity="0.68" stroke="#555" stroke-width="0.7"/>
<text x="473.32" y="500.30" font-size="10" fill="#262626" font-family="'Liberation Sans',sans-serif">0</text>
<circle cx="494.7" cy="436.4" r="7.9" fill="#fff" fill-opacity="0.68" stroke="#555" stroke-width="0.7"/>
<text x="491.92" y="439.90" font-size="10" fill="#262626" font-family="'Liberation Sans',sans-serif">1</text>
<circle cx="496.2" cy="455.6" r="7.9" fill="#fff" fill-opacity="0.68" stroke="#555" stroke-width="0.7"/>
<text x="493.42" y="459.10" font-size="10" fill="#262626" font-family="'Liberation Sans',sans-serif">2</text>
<circle cx="526.4" cy="363.3" r="7.9" fill="#fff" fill-opacity="0.68" stroke="#555" stroke-width="0.7"/>
<text x="523.62" y="366.80" font-size="10" fill="#262626" font-family="'Liberation Sans',sans-serif">3</text>
<circle cx="530.1" cy="397.4" r="7.9" fill="#fff" fill-opacity="0.68" stroke="#555" stroke-width="0.7"/>
<text x="527.32" y="400.90" font-size="10" fill="#262626" font-family="'Liberation Sans',sans-serif">4</text>
<circle cx="534.2" cy="420.0" r="7.9" fill="#fff" fill-opacity="0.68" stroke="#555" stroke-width="0.7"/>
<text x="531.42" y="423.50" font-size="10" fill="#262626" font-family="'Liberation Sans',sans-serif">a</text>
<circle cx="551.2" cy="371.8" r="7.9" fill="#fff" fill-opacity="0.68" stroke="#555" stroke-width="0.7"/>
<text x="548.42" y="375.30" font-size="10" fill="#262626" font-family="'Liberation Sans',sans-serif">b</text>
<circle cx="566.4" cy="439.2" r="7.9" fill="#fff" fill-opacity="0.68" stroke="#555" stroke-width="0.7"/>
<text x="563.90" y="442.70" font-size="10" fill="#262626" font-family="'Liberation Sans',sans-serif">c</text>
<circle cx="96.1" cy="576.2" r="7.3" fill="#e0220f" stroke="#800080" stroke-width="2"/>
<text x="94.31" y="579.00" font-size="7.6" fill="#fff" font-family="'DejaVu Sans',sans-serif">♩</text>
<circle cx="145.5" cy="534.7" r="7.3" fill="#e0220f" stroke="#800080" stroke-width="2"/>
<text x="143.71" y="537.50" font-size="7.6" fill="#fff" font-family="'DejaVu Sans',sans-serif">♩</text>
<circle cx="174.3" cy="518.4" r="7.3" fill="#e0220f" stroke="#800080" stroke-width="2"/>
<text x="171.87" y="521.20" font-size="7.6" fill="#fff" font-family="'DejaVu Sans',sans-serif">♪</text>
<circle cx="177.2" cy="547.4" r="7.3" fill="#e0220f" stroke="#800080" stroke-width="2"/>
<text x="173.79" y="550.20" font-size="7.6" fill="#fff" font-family="'DejaVu Sans',sans-serif">♫</text>
<circle cx="201.9" cy="468.2" r="7.3" fill="#e0220f" stroke="#800080" stroke-width="2"/>
<text x="198.49" y="471.00" font-size="7.6" fill="#fff" font-family="'DejaVu Sans',sans-serif">♫</text>
<circle cx="203.3" cy="519.5" r="7.3" fill="#e0220f" stroke="#800080" stroke-width="2"/>
<text x="199.89" y="522.30" font-size="7.6" fill="#fff" font-family="'DejaVu Sans',sans-serif">♬</text>
<circle cx="234.2" cy="465.5" r="7.3" fill="#e0220f" stroke="#800080" stroke-width="2"/>
<text x="230.79" y="468.30" font-size="7.6" fill="#fff" font-family="'DejaVu Sans',sans-serif">♬</text>
<circle cx="261.5" cy="460.2" r="7.3" fill="#f5a033" stroke="#800080" stroke-width="2"/>
<text x="259.71" y="463.00" font-size="7.6" fill="#000" font-family="'DejaVu Sans',sans-serif">♩</text>
<circle cx="262.8" cy="512.6" r="7.3" fill="#f5a033" stroke="#800080" stroke-width="2"/>
<text x="260.37" y="515.40" font-size="7.6" fill="#000" font-family="'DejaVu Sans',sans-serif">♪</text>
<circle cx="310.0" cy="445.9" r="7.3" fill="#f5a033" stroke="#800080" stroke-width="2"/>
<text x="307.57" y="448.70" font-size="7.6" fill="#000" font-family="'DejaVu Sans',sans-serif">♪</text>
<circle cx="331.5" cy="492.6" r="7.3" fill="#f5a033" stroke="#800080" stroke-width="2"/>
<text x="328.09" y="495.40" font-size="7.6" fill="#000" font-family="'DejaVu Sans',sans-serif">♫</text>
<circle cx="363.8" cy="441.2" r="7.3" fill="#f5a033" stroke="#800080" stroke-width="2"/>
<text x="360.39" y="444.00" font-size="7.6" fill="#000" font-family="'DejaVu Sans',sans-serif">♫</text>
<circle cx="378.4" cy="498.3" r="7.3" fill="#2f4f5f" stroke="#800080" stroke-width="2"/>
<text x="376.61" y="501.10" font-size="7.6" fill="#fff" font-family="'DejaVu Sans',sans-serif">♩</text>
<circle cx="407.2" cy="450.5" r="7.3" fill="#2f4f5f" stroke="#800080" stroke-width="2"/>
<text x="405.41" y="453.30" font-size="7.6" fill="#fff" font-family="'DejaVu Sans',sans-serif">♩</text>
<circle cx="449.4" cy="449.3" r="7.3" fill="#2bbfc9" stroke="#800080" stroke-width="2"/>
<text x="447.61" y="452.10" font-size="7.6" fill="#fff" font-family="'DejaVu Sans',sans-serif">♩</text>
<circle cx="480.2" cy="486.3" r="7.3" fill="#2bbfc9" stroke="#800080" stroke-width="2"/>
<text x="477.77" y="489.10" font-size="7.6" fill="#fff" font-family="'DejaVu Sans',sans-serif">♪</text>
<circle cx="539.8" cy="360.4" r="7.3" fill="#2bbfc9" stroke="#800080" stroke-width="2"/>
<text x="537.37" y="363.20" font-size="7.6" fill="#fff" font-family="'DejaVu Sans',sans-serif">♪</text>
<circle cx="152.3" cy="571.8" r="6.8" fill="#1e90e6" stroke="#3b0a8c" stroke-width="1.8"/>
<text x="150.19" y="574.50" font-size="7.6" font-weight="bold" fill="#fff" font-family="'Liberation Sans',sans-serif">1</text>
<circle cx="239.5" cy="559.3" r="6.8" fill="#1e90e6" stroke="#3b0a8c" stroke-width="1.8"/>
<text x="237.39" y="562.00" font-size="7.6" font-weight="bold" fill="#fff" font-family="'Liberation Sans',sans-serif">2</text>
<circle cx="434.1" cy="502.4" r="6.8" fill="#1e90e6" stroke="#3b0a8c" stroke-width="1.8"/>
<text x="431.99" y="505.10" font-size="7.6" font-weight="bold" fill="#fff" font-family="'Liberation Sans',sans-serif">3</text>
<polygon points="565.4,558.4 578.7,458.6 581.4,459.0 578.5,447.8 572.7,457.8 575.5,458.2 562.2,558.0" fill="#fff" stroke="#7d7d7d" stroke-width="0.9" stroke-linejoin="miter"/>
<rect x="83.2" y="577.1" width="192.2" height="19.7" rx="3.6" ry="3.6" fill="#fff" stroke="#4b0082" stroke-width="2.3"/>
<text x="87.6" y="591.8" font-size="13.05" fill="#2e8bcf" textLength="182.8" lengthAdjust="spacing" font-family="'Liberation Sans','Noto Sans CJK SC',sans-serif">显性:趋势线 交织 隐性:波浪理论</text>
<rect x="480.5" y="567.9" width="85.0" height="20.3" rx="3.6" ry="3.6" fill="#fff" stroke="#4b0082" stroke-width="2.3"/>
<text x="484.3" y="583.2" font-size="12.9" fill="#2e8bcf" textLength="77.4" lengthAdjust="spacing" font-family="'Liberation Sans','Noto Sans CJK SC',sans-serif">特征交织区域</text>
<g font-size="10" fill="#262626" stroke="#262626" stroke-width="0.25">
<text x="43.9" y="49.9" text-anchor="end">112</text>
<text x="43.9" y="347.9" text-anchor="end">112</text>
<text x="43.9" y="94.1" text-anchor="end">110</text>
<text x="43.9" y="392.1" text-anchor="end">110</text>
<text x="43.9" y="138.3" text-anchor="end">108</text>
<text x="43.9" y="436.4" text-anchor="end">108</text>
<text x="43.9" y="182.5" text-anchor="end">106</text>
<text x="43.9" y="480.6" text-anchor="end">106</text>
<text x="43.9" y="226.7" text-anchor="end">104</text>
<text x="43.9" y="524.8" text-anchor="end">104</text>
<text x="43.9" y="270.9" text-anchor="end">102</text>
<text x="43.9" y="569.0" text-anchor="end">102</text>
<text x="86.3" y="609.2" text-anchor="end">2021-06-22 14:00</text>
<text x="226.3" y="609.2" text-anchor="end">2021-07-15 14:00</text>
<text x="366.3" y="609.2" text-anchor="end">2021-08-09 10:00</text>
<text x="506.3" y="609.2" text-anchor="end">2021-08-31 12:00</text>
<text x="646.3" y="609.2" text-anchor="end">2021-09-22 12:00</text>
<text x="786.3" y="609.2" text-anchor="end">2021-10-12 14:00</text>
</g>
</svg>
</body></html>
